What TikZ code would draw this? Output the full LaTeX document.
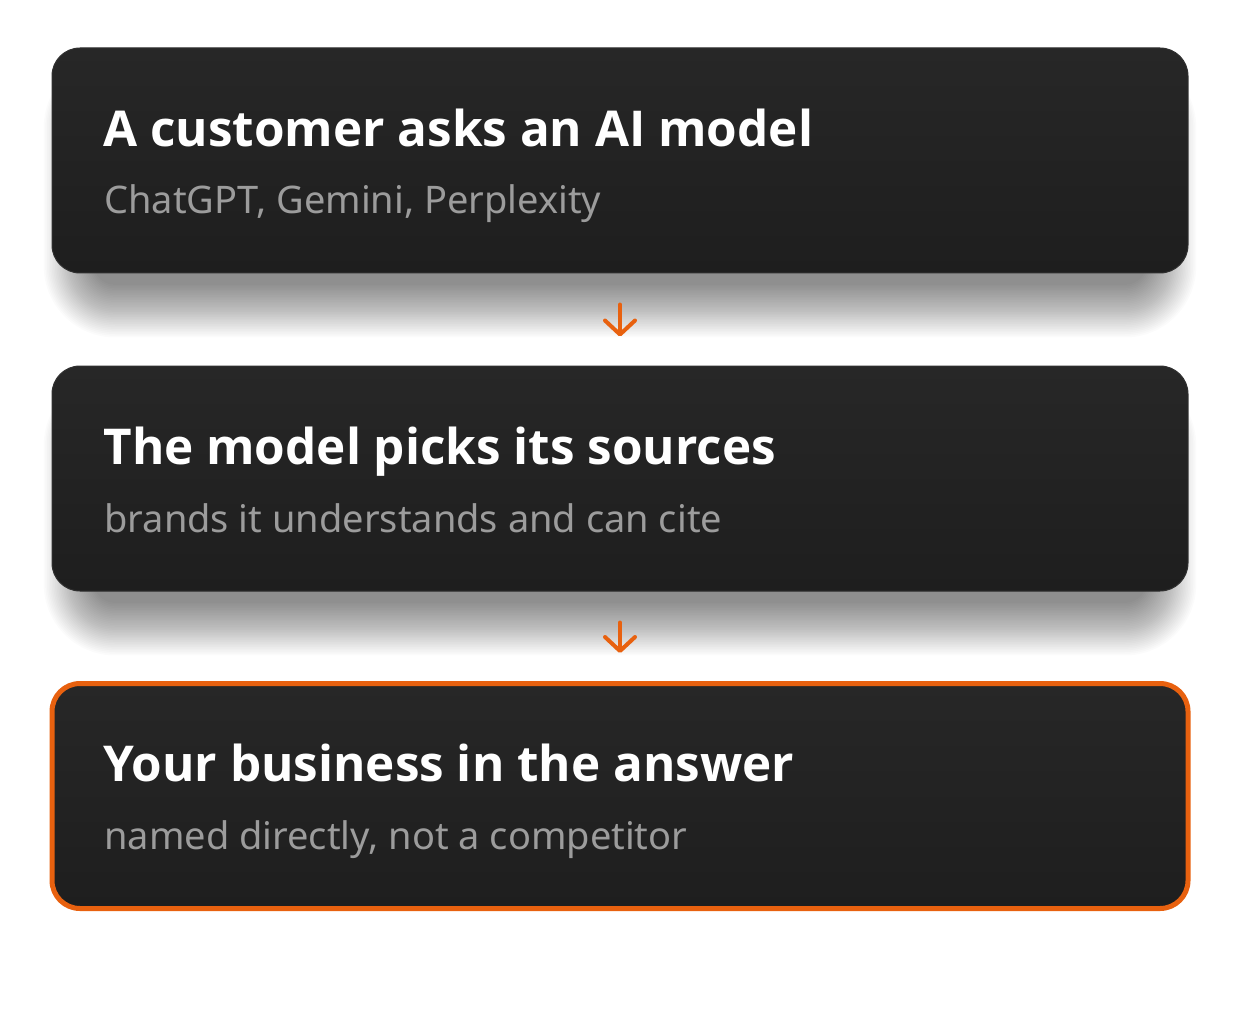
\documentclass[tikz,border=0pt]{standalone}
\usepackage{fontspec}
\setmainfont{Open Sans}
\newfontfamily\subfont{Noto Sans}
\usetikzlibrary{arrows.meta}
\definecolor{boxtop}{HTML}{272727}
\definecolor{boxbot}{HTML}{1E1E1E}
\definecolor{boxline}{HTML}{303030}
\definecolor{subgray}{HTML}{9C9C9C}
\definecolor{accent}{HTML}{E8610F}
\tikzset{
  card/.style={rectangle, rounded corners=14pt, minimum width=568pt, minimum height=112.5pt,
    top color=boxtop, bottom color=boxbot, draw=boxline, line width=0.5pt, inner sep=0pt},
  hicard/.style={card, draw=accent, line width=2.5pt},
  titletext/.style={anchor=base west, inner sep=0pt, text=white, font=\fontsize{24.7}{30}\selectfont\bfseries},
  subtext/.style={anchor=base west, inner sep=0pt, text=subgray, font=\subfont\fontsize{19}{22}\selectfont},
  flow/.style={draw=accent, line width=2pt, line cap=round, line join=round,
    -{Straight Barb[length=7pt, width=15pt, line cap=round, line join=round]}},
}
\begin{document}
\begin{tikzpicture}[x=0.5pt,y=-0.5pt]
\useasboundingbox (0,0) rectangle (1240,1010);
\fill[white] (0,0) rectangle (1240,1010);
% soft shadows under the first two cards
\foreach \c in {160.5, 478.5}{
  \foreach \i in {1,...,32}{
    \fill[black, opacity=0.014, rounded corners={10pt+\i*0.8pt}]
      (95-\i*1.6, \c-112.5+40-\i*1.0) rectangle (1145+\i*1.6, \c+112.5+10+\i*1.7);
  }
}
\node[card] (b1) at (620,160.5) {};
\node[card] (b2) at (620,478.5) {};
\node[hicard] (b3) at (620,796) {};

\node[titletext] (t1) at (103,147) {A customer asks an AI model};
\node[subtext] (s1) at (104,214) {ChatGPT, Gemini, Perplexity};
\node[titletext] (t2) at (103,464) {The model picks its sources};
\node[subtext] (s2) at (104,532) {brands it understands and can cite};
\node[titletext] (t3) at (103,781) {Your business in the answer};
\node[subtext] (s3) at (104,849) {named directly, not a competitor};

\draw[flow, shorten <=15.5pt, shorten >=14.5pt] (b1.south) -- (b2.north);
\draw[flow, shorten <=15.5pt, shorten >=14pt] (b2.south) -- (b3.north);
\end{tikzpicture}
\end{document}
